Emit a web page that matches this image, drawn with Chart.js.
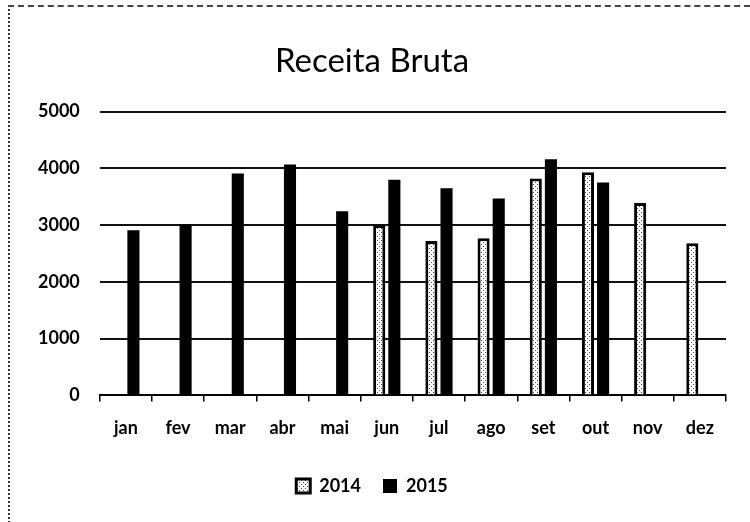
<!DOCTYPE html>
<html>
<head>
<meta charset="utf-8">
<script src="https://cdn.jsdelivr.net/npm/chart.js@4"></script>
<style>
  html, body { margin: 0; padding: 0; background: #fff; }
  #wrap { position: relative; width: 750px; height: 522px; }
  #frame { position: absolute; left: 8px; top: 5px; width: 760px; height: 540px;
           border-left: 2px dotted #333; border-top: 2px dashed #444; }
</style>
</head>
<body>
<div id="wrap">
  <div id="frame"></div>
  <canvas id="receitaChart" width="750" height="522"></canvas>
</div>
<script>
// dados
const meses = ['jan', 'fev', 'mar', 'abr', 'mai', 'jun', 'jul', 'ago', 'set', 'out', 'nov', 'dez'];
const receita2014 = [null, null, null, null, null, 3000, 2720, 2770, 3820, 3930, 3390, 2680];
const receita2015 = [2910, 3020, 3910, 4070, 3245, 3800, 3650, 3470, 4160, 3750, null, null];
const yTicks = [0, 1000, 2000, 3000, 4000, 5000];

// padrão pontilhado para 2014
function makePattern() {
    const c = document.createElement('canvas');
    c.width = 4; c.height = 4;
    const g = c.getContext('2d');
    g.fillStyle = '#fff';
    g.fillRect(0, 0, 4, 4);
    g.fillStyle = '#444';
    g.fillRect(1, 0, 1, 1);
    g.fillRect(3, 2, 1, 1);
    return g.createPattern(c, 'repeat');
}

const ctx = document.getElementById('receitaChart');
const fontBase = 'Lato, "Open Sans", sans-serif';

new Chart(ctx, {
    type: 'bar',
    data: {
        labels: meses,
        datasets: [
            {
                label: '2014',
                data: receita2014,
                backgroundColor: makePattern(),
                borderColor: '#000',
                borderWidth: 3,
                barPercentage: 0.8,
                categoryPercentage: 0.58
            },
            {
                label: '2015',
                data: receita2015,
                backgroundColor: '#000',
                borderColor: '#000',
                borderWidth: 0,
                barPercentage: 0.8,
                categoryPercentage: 0.58
            }
        ]
    },
    options: {
        responsive: false,
        animation: false,
        layout: { padding: { left: 18, right: 24, top: 42, bottom: 17 } },
        plugins: {
            title: {
                display: true,
                text: 'Receita Bruta',
                color: '#000',
                font: { family: fontBase, size: 33, weight: 'normal' },
                padding: { top: 0, bottom: 30 }
            },
            legend: {
                position: 'bottom',
                labels: {
                    color: '#000',
                    boxWidth: 14,
                    boxHeight: 14,
                    padding: 22,
                    font: { family: fontBase, size: 18, weight: 'bold' }
                }
            },
            tooltip: { enabled: false }
        },
        scales: {
            x: {
                offset: true,
                grid: {
                    display: true,
                    drawOnChartArea: false,
                    offset: true,
                    tickLength: 6,
                    color: '#000',
                    lineWidth: 1.5
                },
                border: { display: true, color: '#000', width: 2 },
                ticks: {
                    color: '#000',
                    padding: 16,
                    font: { family: fontBase, size: 18, weight: 'bold' }
                }
            },
            y: {
                min: 0,
                max: 5000,
                afterBuildTicks: function(axis) {
                    axis.ticks = yTicks.map(v => ({ value: v }));
                },
                grid: {
                    color: '#111',
                    lineWidth: 2,
                    drawTicks: false
                },
                border: { display: false },
                ticks: {
                    color: '#000',
                    padding: 20,
                    callback: function(value) { return String(value); },
                    font: { family: fontBase, size: 18, weight: 'bold' }
                }
            }
        }
    }
});
</script>
</body>
</html>
